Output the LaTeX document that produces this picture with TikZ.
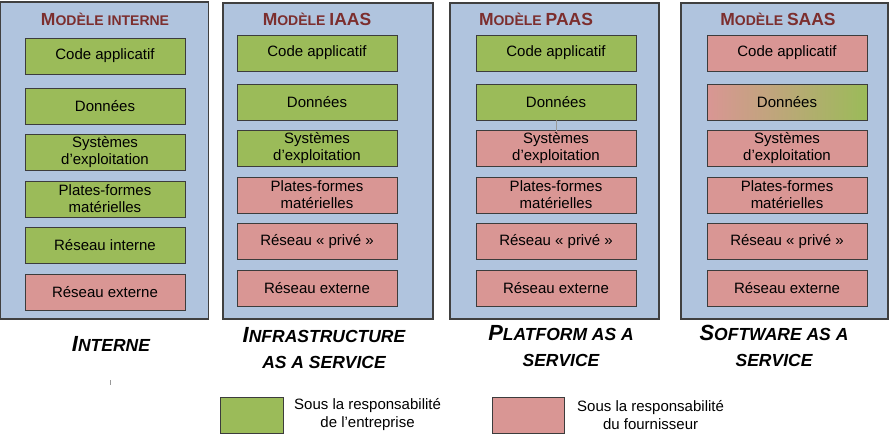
\documentclass[tikz,border=0pt]{standalone}
\usepackage{fontspec}
\setmainfont{Liberation Sans}
\usetikzlibrary{positioning}
\definecolor{PanelBlue}{RGB}{176, 196, 222}
\definecolor{PanelLine}{RGB}{64, 64, 64}
\definecolor{BoxLine}{RGB}{60, 60, 60}
\definecolor{EntGreen}{RGB}{155, 187, 89}
\definecolor{FourRed}{RGB}{217, 150, 148}
\definecolor{HdrRed}{RGB}{124, 46, 46}
\newcommand{\hbig}[1]{{\fontsize{17.5}{20}\selectfont #1}}
\newcommand{\lbig}[1]{{\fontsize{21.9}{26}\selectfont #1}}

\begin{document}
\begin{tikzpicture}[
    x=1pt, y=-1pt,
    node distance=10.5pt,
    every node/.style={font=\fontsize{15}{17}\selectfont, align=center, text=black},
    panel/.style={rectangle, draw=PanelLine, fill=PanelBlue, line width=1.3pt, anchor=north west, inner sep=0pt, outer sep=0pt},
    layer/.style={rectangle, draw=BoxLine, line width=1pt, minimum width=160pt, minimum height=36pt, inner sep=1pt, outer sep=0pt},
    entbox/.style={layer, fill=EntGreen},
    fourbox/.style={layer, fill=FourRed},
    mixbox/.style={layer, left color=FourRed, right color=EntGreen},
    hdr/.style={font=\bfseries\fontsize{14}{20}\selectfont, text=HdrRed, inner sep=0pt, anchor=base},
    lbl/.style={font=\bfseries\itshape\fontsize{17.5}{26}\selectfont, inner sep=0pt},
    legtxt/.style={font=\fontsize{15}{18}\selectfont, inner sep=0pt},
    link/.style={draw=gray!80, line width=0.6pt}
  ]
    \useasboundingbox (0,0) rectangle (890,434);

    % Panels
    \node[panel, minimum width=208pt, minimum height=317pt] (pint) at (0.7,2) {};
    \node[panel, minimum width=210pt, minimum height=316pt] (piaas) at (223,3) {};
    \node[panel, minimum width=209pt, minimum height=316pt] (ppaas) at (450,3) {};
    \node[panel, minimum width=207pt, minimum height=316pt] (psaas) at (681,3) {};

    % Headers
    \node[hdr] (hint) at (105,25) {\hbig{M}ODÈLE INTERNE};
    \node[hdr] (hiaas) at (317,25) {\hbig{M}ODÈLE \hbig{IAAS}};
    \node[hdr] (hpaas) at (536,25) {\hbig{M}ODÈLE \hbig{PAAS}};
    \node[hdr] (hsaas) at (778,25) {\hbig{M}ODÈLE \hbig{SAAS}};

    % Modele interne
    \node[entbox] (code1) at (105,56) {Code applicatif};
    \node[entbox, below=14pt of code1] (don1) {Données};
    \node[entbox, below=of don1] (sys1) {Systèmes\\d’exploitation};
    \node[entbox, below=of sys1] (plat1) {Plates-formes\\matérielles};
    \node[entbox, below=of plat1] (resi1) {Réseau interne};
    \node[fourbox, below=of resi1] (rese1) {Réseau externe};

    % Modele IAAS
    \node[entbox] (code2) at (317,53) {Code applicatif};
    \node[entbox, below=13pt of code2] (don2) {Données};
    \node[entbox, below=of don2] (sys2) {Systèmes\\d’exploitation};
    \node[fourbox, below=of sys2] (plat2) {Plates-formes\\matérielles};
    \node[fourbox, below=of plat2] (resp2) {Réseau « privé »};
    \node[fourbox, below=of resp2] (rese2) {Réseau externe};

    % Modele PAAS
    \node[entbox] (code3) at (556,53) {Code applicatif};
    \node[entbox, below=13pt of code3] (don3) {Données};
    \node[fourbox, below=of don3] (sys3) {Systèmes\\d’exploitation};
    \node[fourbox, below=of sys3] (plat3) {Plates-formes\\matérielles};
    \node[fourbox, below=of plat3] (resp3) {Réseau « privé »};
    \node[fourbox, below=of resp3] (rese3) {Réseau externe};
    \draw[link] (don3) -- (sys3);

    % Modele SAAS
    \node[fourbox] (code4) at (787,53) {Code applicatif};
    \node[mixbox, below=13pt of code4] (don4) {Données};
    \node[fourbox, below=of don4] (sys4) {Systèmes\\d’exploitation};
    \node[fourbox, below=of sys4] (plat4) {Plates-formes\\matérielles};
    \node[fourbox, below=of plat4] (resp4) {Réseau « privé »};
    \node[fourbox, below=of resp4] (rese4) {Réseau externe};

    % Bottom labels
    \node[lbl, anchor=base] (lint) at (111,351) {\lbig{I}NTERNE};
    \node[lbl, anchor=north] (liaas) at (324,327) {\lbig{I}NFRASTRUCTURE\\AS A SERVICE};
    \node[lbl, anchor=north] (lpaas) at (561,325.5) {\lbig{P}LATFORM AS A\\SERVICE};
    \node[lbl, anchor=north] (lsaas) at (774,325.5) {\lbig{S}OFTWARE AS A\\SERVICE};
    \coordinate (tick) at (110,380);
    \draw[link] (tick) -- ++(0,5);

    % Legend
    \node[entbox, anchor=north west, minimum width=63pt, minimum height=36pt] (legent) at (220,397) {};
    \node[legtxt, right=11pt of legent] (legenttxt) {Sous la responsabilité\\de l’entreprise};
    \node[fourbox, anchor=north west, minimum width=72pt, minimum height=36pt] (legfour) at (492,397) {};
    \node[legtxt, right=13pt of legfour] (legfourtxt) {Sous la responsabilité\\du fournisseur};
  \end{tikzpicture}
\end{document}
